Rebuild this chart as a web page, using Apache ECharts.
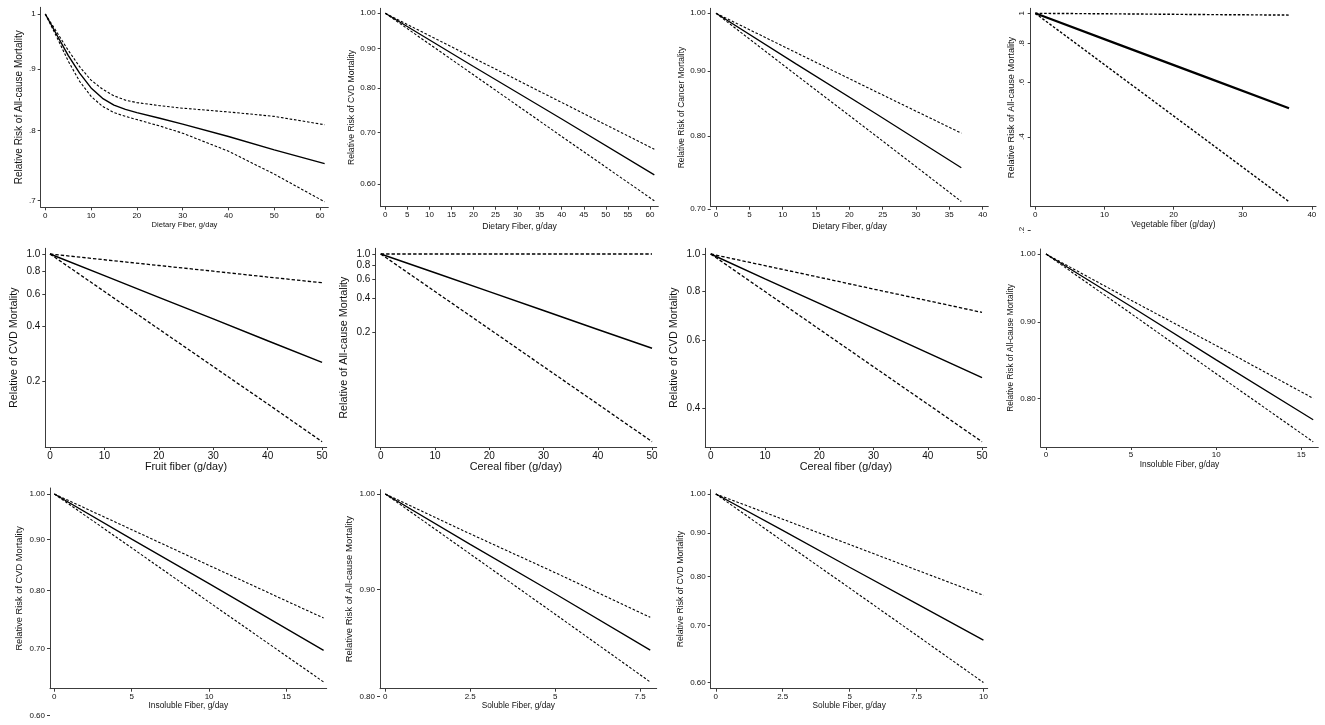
<!DOCTYPE html>
<html>
<head>
<meta charset="utf-8" />
<title>Fiber intake and relative risk of mortality</title>
<script src="https://cdn.jsdelivr.net/npm/echarts@6/dist/echarts.min.js"></script>
<style>html,body{margin:0;padding:0;background:#fff;}</style>
</head>
<body>
<div id="main" style="width:1325px;height:725px;"></div>
<script>
// values: relative risk (estimate, lower / upper CI) by fiber intake
const p1X = [0, 2.5, 5, 7.5, 10, 12.5, 15, 17.5, 20, 25, 30, 40, 50, 61];
const p1Est = [1, 0.961, 0.924, 0.893, 0.868, 0.851, 0.840, 0.833, 0.828, 0.819, 0.810, 0.791, 0.771, 0.751];
const p1Hi = [1, 0.966, 0.933, 0.904, 0.881, 0.866, 0.855, 0.848, 0.844, 0.839, 0.835, 0.829, 0.822, 0.809];
const p1Lo = [1, 0.957, 0.914, 0.879, 0.854, 0.838, 0.828, 0.822, 0.817, 0.807, 0.796, 0.769, 0.736, 0.698];

const p2X = [0, 20, 40, 61];
const p2Est = [1, 0.853, 0.729, 0.617];
const p2Hi = [1, 0.875, 0.766, 0.666];
const p2Lo = [1, 0.832, 0.692, 0.571];

const p3X = [0, 12, 24, 36.8];
const p3Est = [1, 0.912, 0.833, 0.755];
const p3Hi = [1, 0.931, 0.867, 0.804];
const p3Lo = [1, 0.894, 0.800, 0.710];

const p4X = [0, 12, 24, 36.7];
const p4Est = [1, 0.794, 0.631, 0.494];
const p4Hi = [1, 0.996, 0.991, 0.987];
const p4Lo = [1, 0.633, 0.401, 0.247];

const p5X = [0, 10, 20, 30, 40, 50];
const p5Est = [1, 0.761, 0.579, 0.441, 0.335, 0.255];
const p5Hi = [1, 0.930, 0.865, 0.805, 0.748, 0.696];
const p5Lo = [1, 0.623, 0.388, 0.242, 0.151, 0.0938];

const p6X = [0, 10, 20, 30, 40, 50];
const p6Est = [1, 0.679, 0.461, 0.313, 0.212, 0.144];
const p6Hi = [1, 1, 1, 1, 1, 1];
const p6Lo = [1, 0.462, 0.214, 0.0988, 0.0457, 0.0211];

const p7X = [0, 10, 20, 30, 40, 50];
const p7Est = [1, 0.863, 0.746, 0.644, 0.556, 0.480];
const p7Hi = [1, 0.933, 0.871, 0.812, 0.758, 0.707];
const p7Lo = [1, 0.800, 0.640, 0.512, 0.410, 0.328];

const p8X = [0, 5, 10, 15.7];
const p8Est = [1, 0.922, 0.849, 0.774];
const p8Hi = [1, 0.931, 0.868, 0.800];
const p8Lo = [1, 0.912, 0.831, 0.748];

const p9X = [0, 5, 10, 17.4];
const p9Est = [1, 0.901, 0.813, 0.697];
const p9Hi = [1, 0.921, 0.848, 0.751];
const p9Lo = [1, 0.883, 0.779, 0.648];

const p10X = [0, 2.5, 5, 7.8];
const p10Est = [1, 0.946, 0.896, 0.842];
const p10Hi = [1, 0.957, 0.917, 0.873];
const p10Lo = [1, 0.936, 0.876, 0.813];

const p11X = [0, 2.5, 5, 7.5, 10];
const p11Est = [1, 0.906, 0.820, 0.743, 0.673];
const p11Hi = [1, 0.934, 0.872, 0.814, 0.760];
const p11Lo = [1, 0.880, 0.775, 0.682, 0.600];

// tick values and labels
const xTicks10to60 = [0, 10, 20, 30, 40, 50, 60];
const xTicks5to60 = [0, 5, 10, 15, 20, 25, 30, 35, 40, 45, 50, 55, 60];
const xTicks5to40 = [0, 5, 10, 15, 20, 25, 30, 35, 40];
const xTicks10to40 = [0, 10, 20, 30, 40];
const xTicks10to50 = [0, 10, 20, 30, 40, 50];
const xTicks5to15 = [0, 5, 10, 15];
const xTicks25to75 = [0, 2.5, 5, 7.5];
const xTicks25to10 = [0, 2.5, 5, 7.5, 10];

const p1YTicks = [1, 0.9, 0.8, 0.7];        const p1YText = ['1', '.9', '.8', '.7'];
const p2YTicks = [1, 0.9, 0.8, 0.7, 0.6];   const p2YText = ['1.00', '0.90', '0.80', '0.70', '0.60'];
const p3YTicks = [1, 0.9, 0.8];             const p3YText = ['1.00', '0.90', '0.80'];
const p4YTicks = [1, 0.8, 0.6, 0.4];        const p4YText = ['1', '.8', '.6', '.4'];
const p5YTicks = [1, 0.8, 0.6, 0.4, 0.2];   const p5YText = ['1.0', '0.8', '0.6', '0.4', '0.2'];
const p7YTicks = [1, 0.8, 0.6, 0.4];        const p7YText = ['1.0', '0.8', '0.6', '0.4'];
const p8YTicks = [1, 0.9, 0.8];             const p8YText = ['1.00', '0.90', '0.80'];
const p9YTicks = [1, 0.9, 0.8, 0.7];        const p9YText = ['1.00', '0.90', '0.80', '0.70'];
const p10YTicks = [1, 0.9];                 const p10YText = ['1.00', '0.90'];

const FONT = '"Liberation Sans", Arial, sans-serif';
const AX = '#3c3c3c';
const TXT = '#111';

// box = [left, top, right, bottom] of the plot axes, in px
const small = { tickFs: 8, dash: [2.6, 1.8], sw: 1.3, dw: 1.1 };
const big = { tickFs: 10, dash: [3.4, 2], sw: 1.5, dw: 1.3 };
const panels = [
  Object.assign({}, small, { x: p1X, est: p1Est, hi: p1Hi, lo: p1Lo, box: [40.7, 7.3, 328.3, 207.3], xr: [-1.0, 61.8], yr: [0.6907, 1.0129],
    xTicks: xTicks10to60, yTicks: p1YTicks, yText: p1YText, yTitle: 'Relative Risk of All-cause Mortality', xTitle: 'Dietary Fiber, g/day',
    yFs: 10, xFs: 7.6, yGap: 16, xGap: 14, sw: 1.4 }),
  Object.assign({}, small, { x: p2X, est: p2Est, hi: p2Hi, lo: p2Lo, box: [380.7, 8.3, 658.3, 206.7], xr: [-1.04, 61.9], yr: [0.561, 1.015],
    xTicks: xTicks5to60, yTicks: p2YTicks, yText: p2YText, yTitle: 'Relative Risk of CVD Mortality', xTitle: 'Dietary Fiber, g/day',
    yFs: 8.6, xFs: 8.6, yGap: 25, xGap: 15 }),
  Object.assign({}, small, { x: p3X, est: p3Est, hi: p3Hi, lo: p3Lo, box: [710.7, 8.3, 988.3, 206.7], xr: [-0.8, 40.85], yr: [0.7033, 1.0091],
    xTicks: xTicks5to40, yTicks: p3YTicks, yText: p3YText, yOut: 0.7, yOutText: '0.70', yTitle: 'Relative Risk of Cancer Mortality', xTitle: 'Dietary Fiber, g/day',
    yFs: 8.4, xFs: 8.6, yGap: 25, xGap: 15 }),
  Object.assign({}, small, { x: p4X, est: p4Est, hi: p4Hi, lo: p4Lo, box: [1030.7, 8.3, 1316, 206.7], xr: [-0.67, 40.6], yr: [0.238, 1.038],
    xTicks: xTicks10to40, yTicks: p4YTicks, yText: p4YText, yOut: 0.2, yOutText: '.2', yRotate: 90, yTitle: 'Relative Risk of All-cause Mortality', xTitle: 'Vegetable fiber (g/day)',
    yFs: 9.2, xFs: 8.4, yGap: 15, xGap: 14, sw: 2.2, dw: 1.4 }),
  Object.assign({}, big, { x: p5X, est: p5Est, hi: p5Hi, lo: p5Lo, box: [45.3, 248.3, 326.7, 447], xr: [-0.86, 50.85], yr: [0.0877, 1.0745],
    xTicks: xTicks10to50, yTicks: p5YTicks, yText: p5YText, yTitle: 'Relative of CVD Mortality', xTitle: 'Fruit fiber (g/day)',
    yFs: 10.8, xFs: 10.8, yGap: 26, xGap: 14 }),
  Object.assign({}, big, { x: p6X, est: p6Est, hi: p6Hi, lo: p6Lo, box: [375.3, 248.3, 656.7, 447], xr: [-1.0, 50.86], yr: [0.0189, 1.124],
    xTicks: xTicks10to50, yTicks: p5YTicks, yText: p5YText, yTitle: 'Relative of All-cause Mortality', xTitle: 'Cereal fiber (g/day)',
    yFs: 10.8, xFs: 10.8, yGap: 26, xGap: 14 }),
  Object.assign({}, big, { x: p7X, est: p7Est, hi: p7Hi, lo: p7Lo, box: [705.3, 248.3, 986.7, 447], xr: [-1.0, 50.86], yr: [0.318, 1.0344],
    xTicks: xTicks10to50, yTicks: p7YTicks, yText: p7YText, yTitle: 'Relative of CVD Mortality', xTitle: 'Cereal fiber (g/day)',
    yFs: 10.8, xFs: 10.8, yGap: 26, xGap: 14 }),
  Object.assign({}, small, { x: p8X, est: p8Est, hi: p8Hi, lo: p8Lo, box: [1040.7, 249, 1318.3, 447], xr: [-0.31, 16.0], yr: [0.742, 1.0078],
    xTicks: xTicks5to15, yTicks: p8YTicks, yText: p8YText, yTitle: 'Relative Risk of All-cause Mortality', xTitle: 'Insoluble Fiber, g/day',
    yFs: 8.3, xFs: 8.4, yGap: 26, xGap: 14 }),
  Object.assign({}, small, { x: p9X, est: p9Est, hi: p9Hi, lo: p9Lo, box: [50, 488, 326.7, 688.7], xr: [-0.28, 17.6], yr: [0.638, 1.0139],
    xTicks: xTicks5to15, yTicks: p9YTicks, yText: p9YText, yOut: 0.6, yOutText: '0.60', yTitle: 'Relative Risk of CVD Mortality', xTitle: 'Insoluble Fiber, g/day',
    yFs: 9.3, xFs: 8.4, yGap: 26, xGap: 13 }),
  Object.assign({}, small, { x: p10X, est: p10Est, hi: p10Hi, lo: p10Lo, box: [380, 489.7, 656.7, 688.7], xr: [-0.156, 7.99], yr: [0.807, 1.0047],
    xTicks: xTicks25to75, yTicks: p10YTicks, yText: p10YText, yOut: 0.8, yOutText: '0.80', yTitle: 'Relative Risk of All-cause Mortality', xTitle: 'Soluble Fiber, g/day',
    yFs: 9.5, xFs: 8.3, yGap: 26, xGap: 13 }),
  Object.assign({}, small, { x: p11X, est: p11Est, hi: p11Hi, lo: p11Lo, box: [710.7, 489.7, 987.7, 688.7], xr: [-0.19, 10.16], yr: [0.590, 1.0117],
    xTicks: xTicks25to10, yTicks: p2YTicks, yText: p2YText, yTitle: 'Relative Risk of CVD Mortality', xTitle: 'Soluble Fiber, g/day',
    yFs: 8.7, xFs: 8.3, yGap: 26, xGap: 13 })
];

const ln = Math.log;
function labelFor(ticks, texts) {
  return function (v) {
    for (let i = 0; i < ticks.length; i++) {
      if (Math.abs(ln(ticks[i]) - v) < 1e-6) return texts[i];
    }
    return '';
  };
}

const grid = [], xAxis = [], yAxis = [], series = [];

panels.forEach(p => {
  const [l, t, r, b] = p.box;
  const gi = grid.length;
  grid.push({ left: l, top: t, width: r - l, height: b - t });
  xAxis.push({
    type: 'value', gridIndex: gi, min: p.xr[0], max: p.xr[1],
    name: p.xTitle, nameLocation: 'middle', nameGap: p.xGap,
    nameTextStyle: { fontSize: p.xFs, color: TXT, fontFamily: FONT },
    axisLine: { onZero: false, lineStyle: { color: AX, width: 1 } },
    axisTick: { customValues: p.xTicks, length: 3, lineStyle: { color: AX } },
    axisLabel: { customValues: p.xTicks, fontSize: p.tickFs, color: TXT, fontFamily: FONT, margin: 4 },
    splitLine: { show: false }
  });
  const yCustom = p.yTicks.map(v => ln(v));
  yAxis.push({
    type: 'value', gridIndex: gi, min: ln(p.yr[0]), max: ln(p.yr[1]),
    name: p.yTitle, nameLocation: 'middle', nameGap: p.yGap, nameRotate: 90,
    nameTextStyle: { fontSize: p.yFs, color: TXT, fontFamily: FONT },
    axisLine: { onZero: false, lineStyle: { color: AX, width: 1 } },
    axisTick: { customValues: yCustom, length: 3, lineStyle: { color: AX } },
    axisLabel: { customValues: yCustom, formatter: labelFor(p.yTicks, p.yText), rotate: p.yRotate || 0,
      fontSize: p.tickFs, color: TXT, fontFamily: FONT, margin: 5 },
    splitLine: { show: false }
  });
  const line = (vals, dashed) => ({
    type: 'line', xAxisIndex: gi, yAxisIndex: gi,
    data: p.x.map((x, k) => [x, ln(vals[k])]),
    symbol: 'none', silent: true, animation: false,
    lineStyle: { color: '#000', width: dashed ? p.dw : p.sw, type: dashed ? p.dash : 'solid' }
  });
  series.push(line(p.hi, true), line(p.lo, true), line(p.est, false));

  // tick label that Stata draws below the plotted range
  if (p.yOut) {
    const lnMin = ln(p.yr[0]), lnMax = ln(p.yr[1]);
    const scale = (b - t) / (lnMax - lnMin);
    const outMin = ln(p.yOut) - 0.01;
    const g2 = grid.length;
    grid.push({ left: l, top: t, width: r - l, height: (lnMax - outMin) * scale });
    xAxis.push({ type: 'value', gridIndex: g2, show: false, min: 0, max: 1, axisLine: { onZero: false } });
    yAxis.push({
      type: 'value', gridIndex: g2, min: outMin, max: lnMax,
      axisLine: { show: false, onZero: false },
      axisTick: { show: true, customValues: [ln(p.yOut)], length: 3, lineStyle: { color: AX } },
      axisLabel: { customValues: [ln(p.yOut)], formatter: () => p.yOutText, rotate: p.yRotate || 0,
        fontSize: p.tickFs, color: TXT, fontFamily: FONT, margin: 5 },
      splitLine: { show: false }
    });
  }
});

const myChart = echarts.init(document.getElementById('main'));
myChart.setOption({
  backgroundColor: '#fff',
  animation: false,
  grid: grid,
  xAxis: xAxis,
  yAxis: yAxis,
  series: series
});
</script>
</body>
</html>
